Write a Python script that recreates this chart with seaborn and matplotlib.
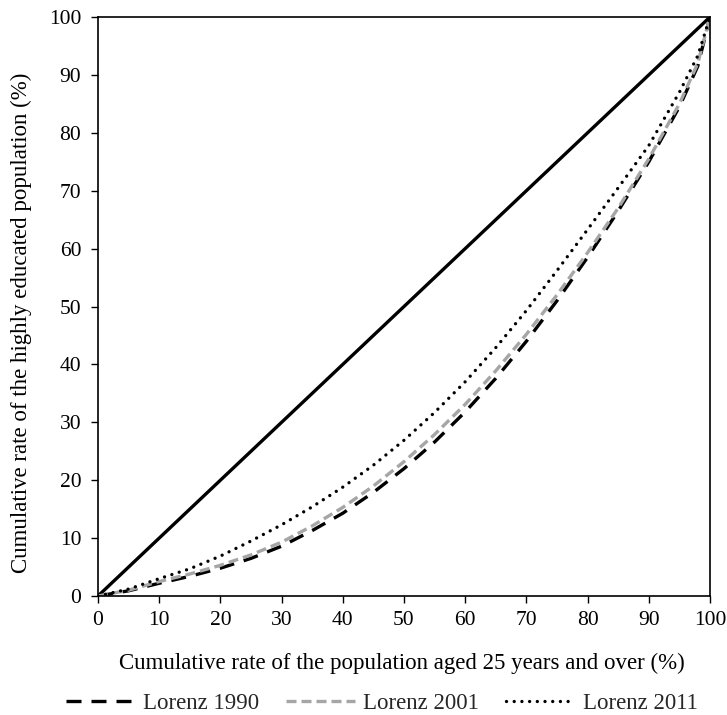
import matplotlib
matplotlib.use("Agg")
import matplotlib.pyplot as plt
import seaborn as sns
import pandas as pd

pop_share = [0, 5, 10, 15, 20, 25, 30, 35, 40, 45, 50, 55, 60, 65, 70, 75, 80, 85, 90, 95, 98, 100]
lorenz_1990 = [0, 0.9, 2.2, 3.4, 4.8, 6.5, 8.6, 11.3, 14.3, 17.9, 22.0, 26.6, 31.8, 37.6, 44.0, 51.0, 58.5, 66.5, 75.0, 84.5, 91.5, 100]
lorenz_2001 = [0, 1.0, 2.5, 3.8, 5.3, 7.1, 9.3, 12.1, 15.3, 19.0, 23.2, 27.9, 33.1, 38.9, 45.2, 52.0, 59.3, 67.0, 75.5, 85.0, 92.0, 100]
lorenz_2011 = [0, 1.2, 3.0, 4.7, 6.9, 9.5, 12.3, 15.4, 18.8, 22.6, 26.9, 31.7, 37.0, 42.9, 49.3, 56.2, 63.3, 70.5, 77.8, 87.0, 93.3, 100]
equality_x = [0, 100]
equality_y = [0, 100]
x_ticks = [0, 10, 20, 30, 40, 50, 60, 70, 80, 90, 100]
y_ticks = [0, 10, 20, 30, 40, 50, 60, 70, 80, 90, 100]

sns.set_theme(style="white")
plt.rcParams['font.family'] = ['Liberation Serif', 'DejaVu Serif']

fig = plt.figure(figsize=(7.27, 7.15), dpi=100)
ax = fig.add_axes([98/727, 1 - 596/715, (710 - 98)/727, (596 - 17)/715])

sns.lineplot(x=equality_x, y=equality_y, ax=ax, color="black", linewidth=2.4, label="_nolegend_")
sns.lineplot(x=pop_share, y=lorenz_1990, ax=ax, color="black", linewidth=2.4,
             label="Lorenz 1990", dashes=False)
sns.lineplot(x=pop_share, y=lorenz_2001, ax=ax, color="#a6a6a6", linewidth=2.4,
             label="Lorenz 2001", dashes=False)
sns.lineplot(x=pop_share, y=lorenz_2011, ax=ax, color="black", linewidth=2.4,
             label="Lorenz 2011", dashes=False)

lines = ax.get_lines()
lines[1].set_dashes([4.5, 3.0])
lines[2].set_dashes([3.0, 1.5])
lines[3].set_dashes([0.01, 2.3])
lines[3].set_dash_capstyle("round")
for l in lines:
    l.set_solid_capstyle("butt")

ax.set_xlim(0, 100)
ax.set_ylim(0, 100)
ax.set_xticks(x_ticks)
ax.set_yticks(y_ticks)
ax.tick_params(axis="both", which="both", direction="out", length=5, width=1,
               color="black", labelsize=15.5, labelcolor="black",
               bottom=True, left=True)
ax.tick_params(axis="x", pad=6)
ax.tick_params(axis="y", pad=7)
for s in ax.spines.values():
    s.set_color("black")
    s.set_linewidth(1.2)

ax.set_xlabel("Cumulative rate of the population aged 25 years and over (%)", fontsize=16.5,
              color="black")
ax.set_ylabel("Cumulative rate of the highly educated population (%)", fontsize=16.5,
              color="black")
ax.xaxis.set_label_coords(0.496, -0.0985)
ax.yaxis.set_label_coords(-0.108, 0.4715)

leg = ax.legend(loc="center", bbox_to_anchor=(0.464, -0.186), ncol=3, frameon=False,
                fontsize=16.5, handlelength=3.0, handletextpad=0.35, columnspacing=1.2)

fig.savefig("out.png", dpi=100)
